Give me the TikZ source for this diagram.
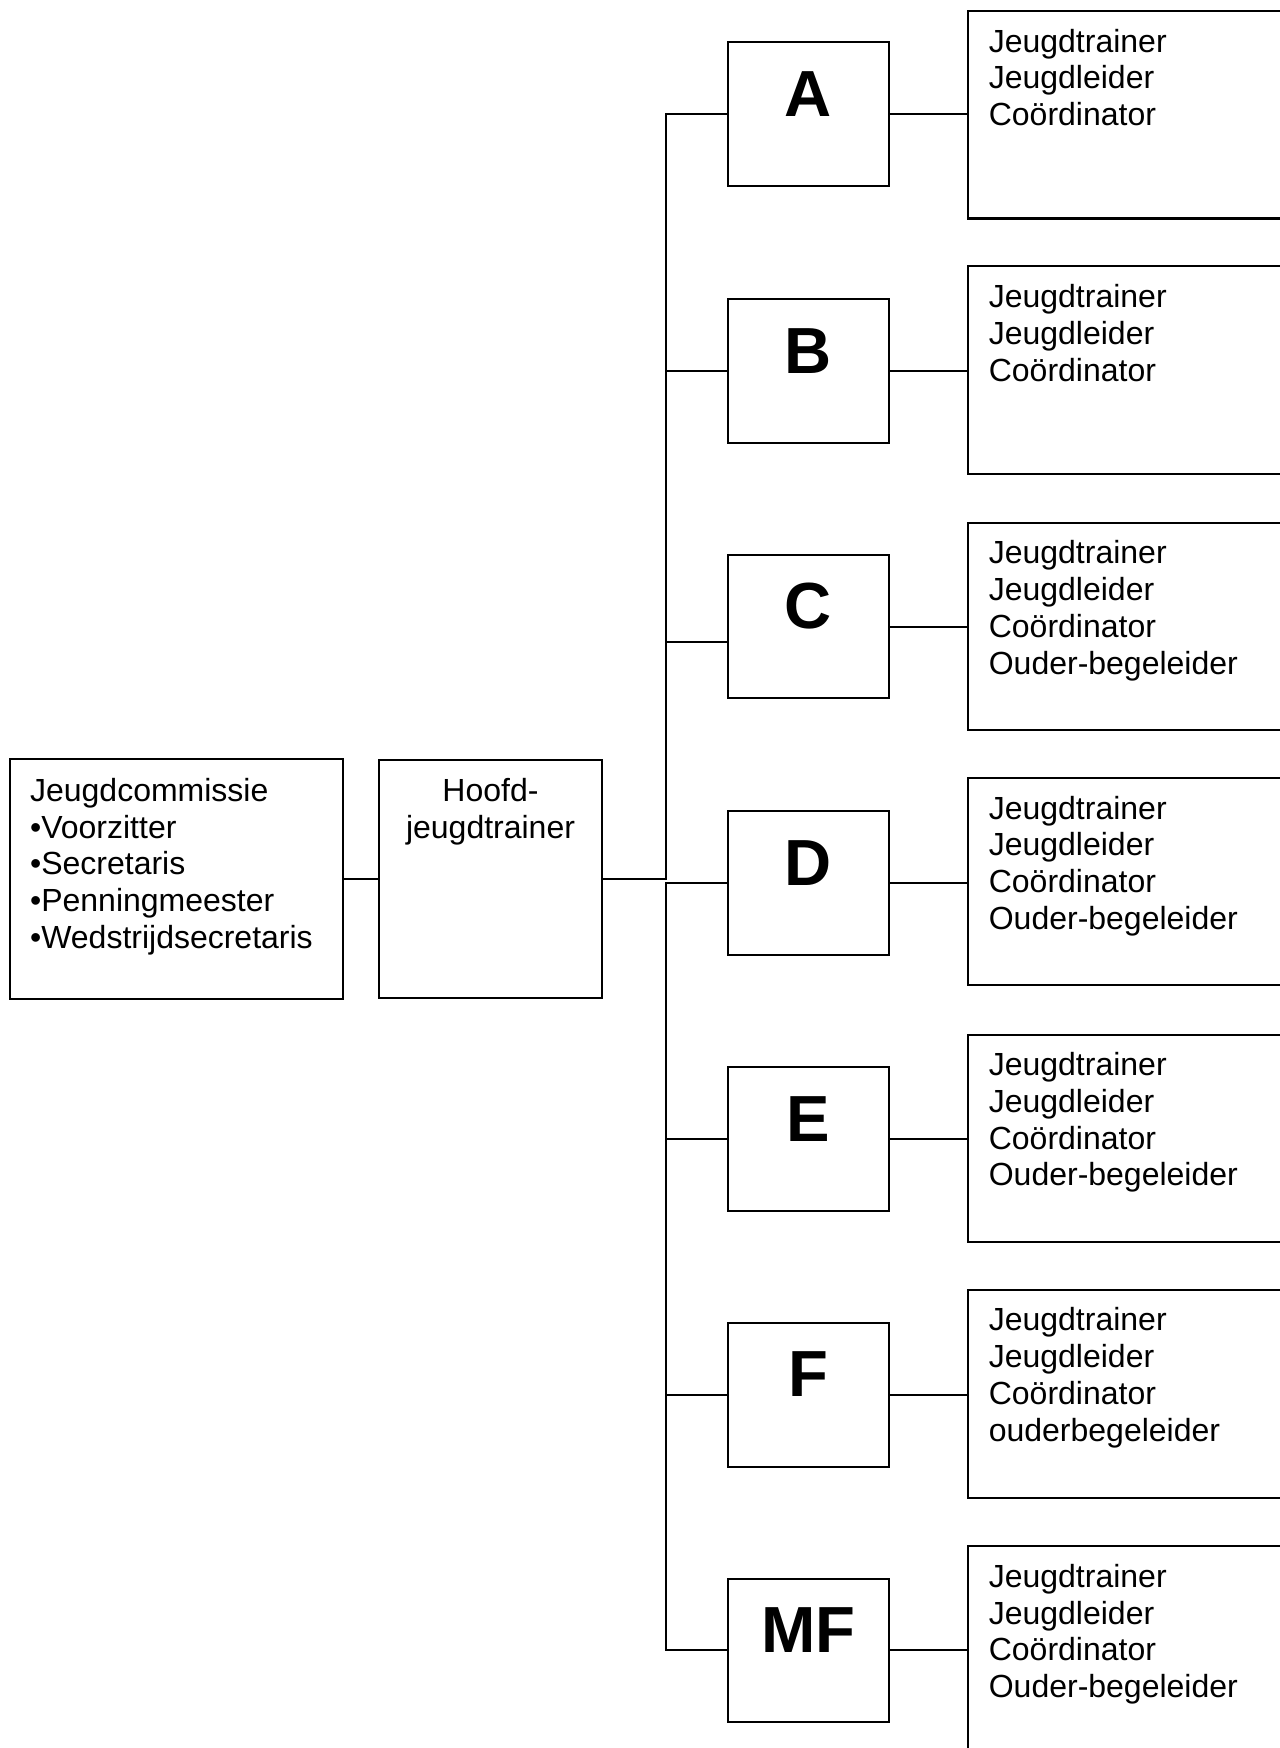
\documentclass[tikz,border=0pt]{standalone}
\usepackage{fontspec}
\setmainfont{Liberation Sans}
\begin{document}
\begin{tikzpicture}[x=0.5pt,y=-0.5pt,
  line width=0.9pt,
  every node/.style={inner sep=0pt, outer sep=0pt},
  txt/.style={font=\fontsize{14.35pt}{16.5pt}\selectfont, align=left, anchor=north west},
  bigbox/.style={draw, minimum width=149.5pt, minimum height=107.5pt},
  hbox/.style={draw, minimum width=100pt, minimum height=107pt},
  lbox/.style={draw, minimum width=72pt, minimum height=64.5pt},
  letter/.style={font=\fontsize{29.25pt}{32pt}\selectfont\bfseries},
  rbox/.style={draw, minimum width=150pt, minimum height=93pt}]
\useasboundingbox (0,0) rectangle (1148,1568);
\clip (0,0) rectangle (1148,1568);
% left boxes
\node[bigbox] (J) at (158.5,788.5) {};
\node[txt] (Jt) at (27,698) {Jeugdcommissie\\•Voorzitter\\•Secretaris\\•Penningmeester\\•Wedstrijdsecretaris};
\node[hbox] (H) at (440,788.5) {};
\node[txt, align=center, anchor=north] (Ht) at (440,698) {Hoofd-\\jeugdtrainer};
% letter boxes
\foreach \n/\y in {A/102.5,B/332.5,C/562,D/792,E/1021.5,F/1251,MF/1480.5}{
  \node[lbox] (\n) at (725,\y) {};
  \node[letter] (\n t) at (725,\y-18) {\n};
}
% right boxes
\foreach \n/\y in {A/103,B/332,C/562,D/791,E/1021,F/1250.5,MF/1480}{
  \node[rbox] (R\n) at (1018,\y) {};
}
\node[txt] (RAt) at (887,26) {Jeugdtrainer\\Jeugdleider\\Coördinator};
\node[txt] (RBt) at (887,255) {Jeugdtrainer\\Jeugdleider\\Coördinator};
\node[txt] (RCt) at (887,485) {Jeugdtrainer\\Jeugdleider\\Coördinator\\Ouder-begeleider};
\node[txt] (RDt) at (887,714) {Jeugdtrainer\\Jeugdleider\\Coördinator\\Ouder-begeleider};
\node[txt] (REt) at (887,944) {Jeugdtrainer\\Jeugdleider\\Coördinator\\Ouder-begeleider};
\node[txt] (RFt) at (887,1173) {Jeugdtrainer\\Jeugdleider\\Coördinator\\ouderbegeleider};
\node[txt] (RMFt) at (887,1403) {Jeugdtrainer\\Jeugdleider\\Coördinator\\Ouder-begeleider};
% connectors
\coordinate (bt) at (597,102.5);
\coordinate (bb) at (597,1480.5);
\draw (J.east) -- (H.west);
\draw (H.east) -- (H.east -| bt) -- (bt) -- (A.west);
\draw (B.west) -- (B.west -| bt);
\draw ([yshift=-7pt]C.west) -- ([yshift=-7pt]C.west -| bt);
\draw (D.west) -- (D.west -| bb) -- (bb) -- (MF.west);
\draw (E.west) -- (E.west -| bb);
\draw (F.west) -- (F.west -| bb);
\foreach \n in {A,B,C,D,E,F,MF}{
  \draw (\n.east) -- (R\n.west |- \n.east);
}
\end{tikzpicture}
\end{document}
